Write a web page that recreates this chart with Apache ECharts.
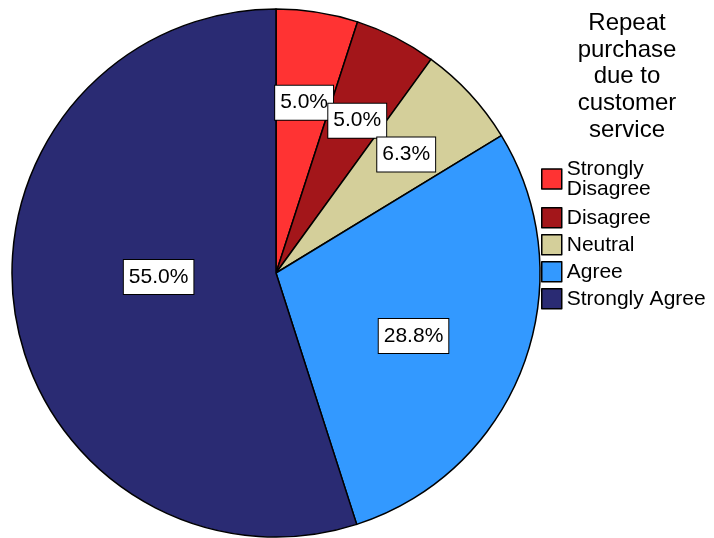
<!DOCTYPE html>
<html>
<head>
<meta charset="utf-8">
<script src="https://cdn.jsdelivr.net/npm/echarts@6/dist/echarts.min.js"></script>
<style>
  html, body { margin: 0; padding: 0; background: #ffffff; }
  #chart { width: 714px; height: 538px; }
</style>
</head>
<body>
<div id="chart"></div>
<script>
// Response categories and their share of respondents (%)
const categories = ['Strongly Disagree', 'Disagree', 'Neutral', 'Agree', 'Strongly Agree'];
const percentages = [5.0, 5.0, 6.3, 28.8, 55.0];
const chartTitle = 'Repeat\npurchase\ndue to\ncustomer\nservice';

// Slice fills, in category order
const sliceColors = ['#FF3333', '#A3161A', '#D4CF9A', '#3399FF', '#2A2B73'];

// Fine placement of each value box relative to the default inside position
const labelNudge = [[7, -37], [20, -32], [31, -27], [11, 16], [16, -17]];

const FONT = '"Liberation Sans", Arial, sans-serif';

const chart = echarts.init(document.getElementById('chart'), null, { renderer: 'canvas' });

const seriesData = categories.map((name, i) => ({
  name: name,
  value: percentages[i],
  itemStyle: { color: sliceColors[i] },
  label: { offset: labelNudge[i] }
}));

// The long first entry wraps onto two lines and sits a little lower than its swatch
const legendData = categories.map((name, i) => i === 0
  ? { name: name, textStyle: { padding: [5, 0, 0, 0] } }
  : { name: name });

chart.setOption({
  animation: false,
  backgroundColor: '#ffffff',
  graphic: [{
    type: 'text',
    x: 627,
    y: 10,
    style: {
      text: chartTitle,
      fontFamily: FONT,
      fontSize: 24,
      lineHeight: 26.7,
      fill: '#000000',
      align: 'center',
      verticalAlign: 'top'
    }
  }],
  legend: {
    orient: 'vertical',
    left: 541,
    top: 156.5,
    padding: 0,
    itemGap: 5.5,
    itemWidth: 20,
    itemHeight: 20,
    icon: 'rect',
    selectedMode: false,
    itemStyle: { borderColor: '#000000', borderWidth: 1.5 },
    formatter: name => name === 'Strongly Disagree' ? 'Strongly\nDisagree' : name,
    textStyle: {
      fontFamily: FONT,
      fontSize: 21,
      lineHeight: 20,
      color: '#000000'
    },
    data: legendData
  },
  series: [{
    type: 'pie',
    center: [276, 273],
    radius: 264,
    startAngle: 90,
    clockwise: true,
    avoidLabelOverlap: false,
    minShowLabelAngle: 0,
    silent: true,
    itemStyle: { borderColor: '#000000', borderWidth: 1.5 },
    labelLayout: { hideOverlap: false },
    label: {
      show: true,
      position: 'inside',
      formatter: p => p.value.toFixed(1) + '%',
      fontFamily: FONT,
      fontSize: 21,
      color: '#000000',
      backgroundColor: '#ffffff',
      borderColor: '#000000',
      borderWidth: 1,
      padding: [7, 5, 6, 5]
    },
    labelLine: { show: false },
    data: seriesData
  }]
});
</script>
</body>
</html>
